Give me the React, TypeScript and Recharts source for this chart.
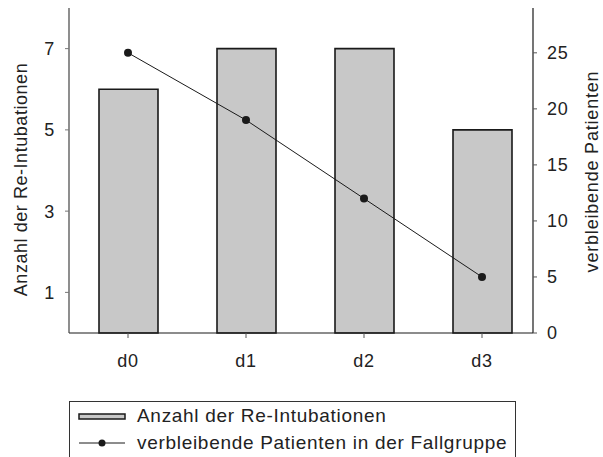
import { Bar, ComposedChart, Legend, Line, XAxis, YAxis } from "recharts";

const categories = ["d0", "d1", "d2", "d3"];
const reintubations = [6, 7, 7, 5];
const remainingPatients = [25, 19, 12, 5];
const leftTicks = [1, 3, 5, 7];
const rightTicks = [0, 5, 10, 15, 20, 25];

const BAR_NAME = "Anzahl der Re-Intubationen";
const LINE_NAME = "verbleibende Patienten in der Fallgruppe";
const LEFT_TITLE = "Anzahl der Re-Intubationen";
const RIGHT_TITLE = "verbleibende Patienten";

const data = categories.map((day, i) => ({
  day,
  reintubations: reintubations[i],
  patients: remainingPatients[i]
}));

const FONT = "'Liberation Sans', Arial, sans-serif";
const BAR_FILL = "#c8c8c8";
const INK = "#1a1a1a";
const TEXT = "#222";
const tickStyle = { fill: TEXT, fontSize: 18, fontFamily: FONT, letterSpacing: 0.8 };

// baseline-anchored rotated title; dx is the baseline x relative to the axis box
function AxisTitle({ viewBox, value, dx, dy, spacing }: any) {
  const cx = viewBox.x + dx;
  const cy = viewBox.y + viewBox.height / 2 + dy;
  return (
    <text
      x={cx}
      y={cy}
      transform={`rotate(-90 ${cx} ${cy})`}
      textAnchor="middle"
      fill={TEXT}
      fontSize={18}
      fontFamily={FONT}
      letterSpacing={spacing}
    >
      {value}
    </text>
  );
}

function LegendBox() {
  return (
    <div
      style={{
        position: "relative",
        width: 447,
        height: 70,
        boxSizing: "border-box",
        borderLeft: "1px solid #333",
        borderTop: "1px solid #333",
        borderRight: "1px solid #333",
        fontFamily: FONT,
        fontSize: 19,
        letterSpacing: 0.7,
        color: TEXT,
        lineHeight: "20px"
      }}
    >
      <svg style={{ position: "absolute", left: 8, top: 9 }} width={50} height={40}>
        <rect x={1} y={3} width={46} height={5} fill={BAR_FILL} stroke={INK} strokeWidth={1.5} />
        <line x1={1} x2={47} y1={32} y2={32} stroke={INK} strokeWidth={1} />
        <circle cx={24} cy={32} r={3.5} fill={INK} />
      </svg>
      <span style={{ position: "absolute", left: 67, top: 4 }}>{BAR_NAME}</span>
      <span style={{ position: "absolute", left: 67, top: 31 }}>{LINE_NAME}</span>
    </div>
  );
}

export default function App() {
  return (
    <div style={{ position: "absolute", left: 0, top: 0, background: "#fff" }}>
      <ComposedChart width={603} height={457} data={data} margin={{ top: 8, right: 0, bottom: 0, left: 0 }}>
        <XAxis
          dataKey="day"
          height={124}
          padding={{ left: 0, right: -8 }}
          tick={tickStyle}
          tickSize={5}
          tickMargin={16}
          axisLine={{ stroke: INK, strokeWidth: 1.2 }}
          tickLine={{ stroke: "#555" }}
        />
        <YAxis
          yAxisId="left"
          width={69}
          domain={[0, 8]}
          ticks={leftTicks}
          tick={tickStyle}
          tickSize={4}
          tickMargin={10}
          axisLine={{ stroke: "#444", strokeWidth: 1.2 }}
          tickLine={{ stroke: "#777" }}
          label={<AxisTitle value={LEFT_TITLE} dx={27} dy={9} spacing={0.55} />}
        />
        <YAxis
          yAxisId="right"
          orientation="right"
          width={70}
          domain={[0, 29]}
          ticks={rightTicks}
          tick={tickStyle}
          tickSize={4}
          tickMargin={10}
          axisLine={{ stroke: INK, strokeWidth: 1.2 }}
          tickLine={{ stroke: "#555" }}
          label={<AxisTitle value={RIGHT_TITLE} dx={65} dy={1} spacing={0.8} />}
        />
        <Legend
          layout="horizontal"
          verticalAlign="middle"
          wrapperStyle={{ left: 69, top: 401, width: 447 }}
          content={() => <LegendBox />}
        />
        <Bar
          yAxisId="left"
          dataKey="reintubations"
          name={BAR_NAME}
          fill={BAR_FILL}
          stroke={INK}
          strokeWidth={1.6}
          barSize={59}
          isAnimationActive={false}
        />
        <Line
          yAxisId="right"
          dataKey="patients"
          name={LINE_NAME}
          type="linear"
          stroke={INK}
          strokeWidth={1}
          dot={{ r: 4, fill: INK, stroke: INK, strokeWidth: 0 }}
          activeDot={false}
          isAnimationActive={false}
        />
      </ComposedChart>
    </div>
  );
}
